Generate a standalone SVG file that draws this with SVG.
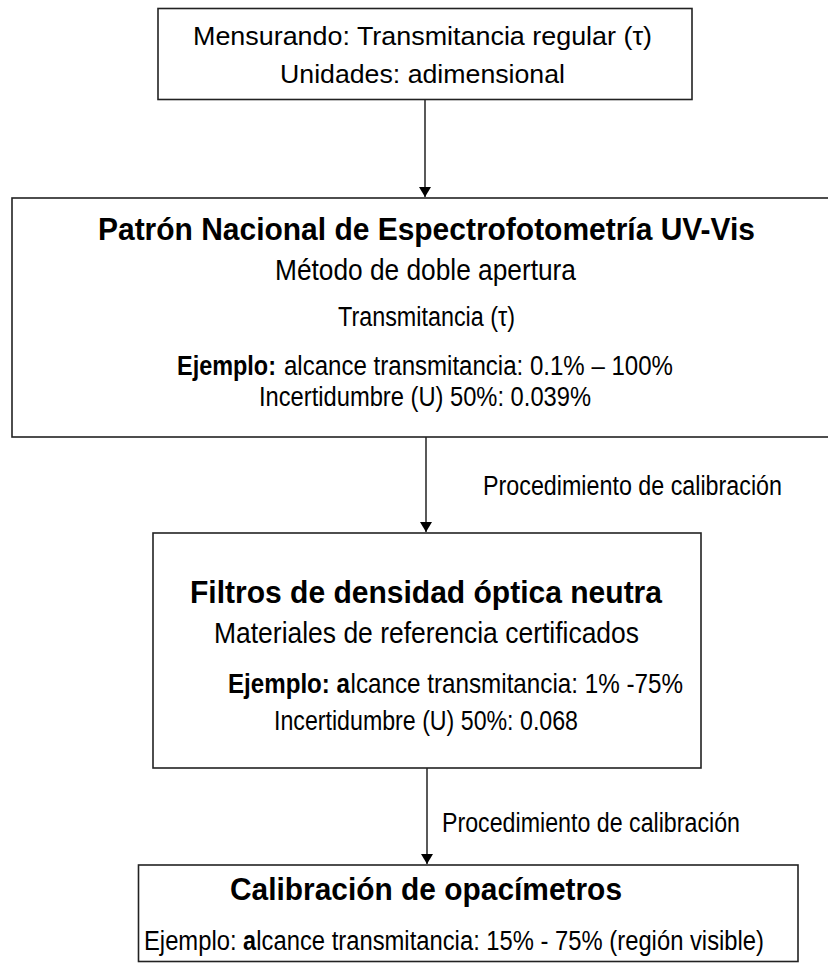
<svg xmlns="http://www.w3.org/2000/svg" width="828" height="963" viewBox="0 0 828 963">
<defs>
<style>
.box{fill:#fff;stroke:#222;stroke-width:1.6}
.t{font-family:"Liberation Sans",Arial,sans-serif;fill:#000}
.n{font-family:"Liberation Sans Narrow","Liberation Sans",Arial,sans-serif;fill:#000}
.b{font-weight:bold}
.conn{stroke:#000;stroke-width:1.3;fill:none}
</style>
<marker id="ah" viewBox="0 0 10 12" refX="10" refY="6" markerWidth="10" markerHeight="12" markerUnits="userSpaceOnUse" orient="auto">
<path d="M0,0 L10,6 L0,12 Z" fill="#000"/>
</marker>
</defs>
<rect width="828" height="963" fill="#fff"/>
<g id="connectors">
<line class="conn" x1="425" y1="99" x2="425" y2="197" marker-end="url(#ah)"/>
<line class="conn" x1="426" y1="437" x2="426" y2="532" marker-end="url(#ah)"/>
<line class="conn" x1="427" y1="768" x2="427" y2="864" marker-end="url(#ah)"/>
<text class="n" x="483" y="495" font-size="27" textLength="299" lengthAdjust="spacingAndGlyphs">Procedimiento de calibración</text>
<text class="n" x="442" y="832" font-size="27" textLength="298" lengthAdjust="spacingAndGlyphs">Procedimiento de calibración</text>
</g>
<g id="n1">
<rect class="box" x="158" y="8.5" width="534" height="91"/>
<text class="t" x="193" y="45" font-size="26" textLength="459" lengthAdjust="spacingAndGlyphs">Mensurando:  Transmitancia regular (τ)</text>
<text class="t" x="280" y="83" font-size="26" textLength="285" lengthAdjust="spacingAndGlyphs">Unidades: adimensional</text>
</g>
<g id="n2">
<rect class="box" x="12" y="198" width="830" height="239"/>
<text class="n b" x="98" y="240" font-size="32" textLength="657" lengthAdjust="spacingAndGlyphs">Patrón Nacional de Espectrofotometría UV-Vis</text>
<text class="n" x="275" y="280" font-size="29" textLength="301" lengthAdjust="spacingAndGlyphs">Método de doble apertura</text>
<text class="n" x="338" y="326" font-size="27" textLength="177" lengthAdjust="spacingAndGlyphs">Transmitancia (τ)</text>
<text class="n b" x="177" y="375" font-size="27" textLength="99" lengthAdjust="spacingAndGlyphs">Ejemplo:</text>
<text class="n" x="284" y="375" font-size="27" textLength="389" lengthAdjust="spacingAndGlyphs">alcance transmitancia:  0.1% –  100%</text>
<text class="n" x="259" y="406" font-size="27" textLength="332" lengthAdjust="spacingAndGlyphs">Incertidumbre (U) 50%:  0.039%</text>
</g>
<g id="n3">
<rect class="box" x="153" y="533" width="548" height="235"/>
<text class="n b" x="190" y="603" font-size="32" textLength="472" lengthAdjust="spacingAndGlyphs">Filtros de densidad óptica neutra</text>
<text class="n" x="214" y="643" font-size="29" textLength="425" lengthAdjust="spacingAndGlyphs">Materiales de referencia certificados</text>
<text class="n b" x="228" y="693" font-size="28" textLength="122" lengthAdjust="spacingAndGlyphs">Ejemplo: a</text>
<text class="n" x="350.5" y="693" font-size="28" textLength="332.5" lengthAdjust="spacingAndGlyphs">lcance transmitancia: 1% -75%</text>
<text class="n" x="274" y="730" font-size="27" textLength="304" lengthAdjust="spacingAndGlyphs">Incertidumbre (U) 50%: 0.068</text>
</g>
<g id="n4">
<rect class="box" x="138.5" y="865" width="659.5" height="96.5"/>
<text class="n b" x="230" y="900" font-size="32" textLength="392" lengthAdjust="spacingAndGlyphs">Calibración de opacímetros</text>
<text class="n" x="144" y="950" font-size="27" textLength="92.5" lengthAdjust="spacingAndGlyphs">Ejemplo:</text>
<text class="n b" x="243" y="950" font-size="27" textLength="13" lengthAdjust="spacingAndGlyphs">a</text>
<text class="n" x="256.3" y="950" font-size="27" textLength="507.7" lengthAdjust="spacingAndGlyphs">lcance transmitancia: 15% - 75% (región visible)</text>
</g>
</svg>
